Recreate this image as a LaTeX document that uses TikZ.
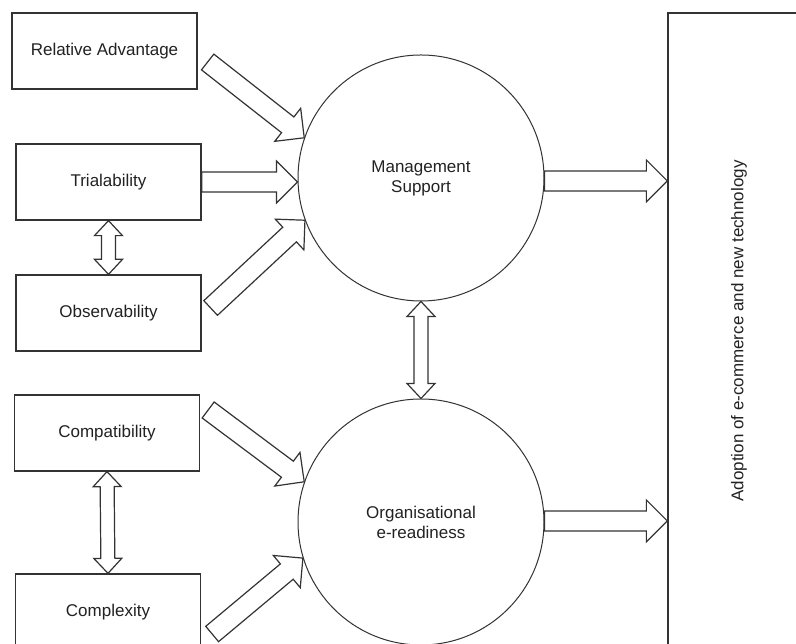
\documentclass[tikz,border=0pt]{standalone}
\usepackage{fontspec}
\usepackage{graphicx}
\setmainfont{Liberation Sans}
\usetikzlibrary{calc}
\definecolor{ln}{HTML}{333333}
\definecolor{tx}{HTML}{222222}
\tikzset{
  box/.style={draw=ln, line width=1.3pt, minimum width=185pt, minimum height=76pt, inner sep=0pt, text=tx, font=\fontsize{17}{20}\selectfont},
  circ/.style={draw=ln, line width=1pt, circle, minimum size=246pt, inner sep=0pt, text=tx, align=center, font=\fontsize{17}{20}\selectfont},
  arrowline/.style={draw=ln, line width=1.2pt, fill=white, line join=miter},
}
\newcommand\blockarrow[2]{%
  \coordinate (ba-c) at ($(#2)!21pt!(#1)$);
  \draw[arrowline] ($(#1)!10pt!90:(#2)$) -- ($(ba-c)!10pt!90:(#2)$) -- ($(ba-c)!21pt!90:(#2)$) -- (#2)
    -- ($(ba-c)!21pt!-90:(#2)$) -- ($(ba-c)!10pt!-90:(#2)$) -- ($(#1)!10pt!-90:(#2)$) -- cycle;
}
\newcommand\dblarrow[2]{%
  \coordinate (da-a) at ($(#1)!15pt!(#2)$);
  \coordinate (da-b) at ($(#2)!15pt!(#1)$);
  \draw[arrowline] (#1) -- ($(da-a)!14pt!90:(#2)$) -- ($(da-a)!7pt!90:(#2)$) -- ($(da-b)!7pt!90:(#2)$) -- ($(da-b)!14pt!90:(#2)$) -- (#2)
    -- ($(da-b)!14pt!-90:(#2)$) -- ($(da-b)!7pt!-90:(#2)$) -- ($(da-a)!7pt!-90:(#2)$) -- ($(da-a)!14pt!-90:(#2)$) -- cycle;
}
\begin{document}
\begin{tikzpicture}[x=1pt,y=1pt]
\useasboundingbox (0,0) rectangle (796,644);
\clip (0,0) rectangle (796,644);
\fill[white] (0,0) rectangle (796,644);
% boxes
\node[box] (ra) at (104.5,593) {Relative Advantage};
\node[box] (tr) at (108.5,462) {Trialability};
\node[box] (ob) at (108.5,331) {Observability};
\node[box] (co) at (107,211) {Compatibility};
\node[box] (cx) at (108,32) {Complexity};
% circles
\node[circ] (ms) at (421,466) {Management\\Support};
\node[circ] (os) at (421,122) {Organisational\\e-readiness};
% outcome
\node[box, minimum width=142pt, minimum height=636pt] (ad) at (739,313) {\rotatebox{90}{Adoption of e-commerce and new technology}};
% connector end points
\coordinate (ra-t) at ($(ra.east)+(10,-11)$);
\coordinate (tr-h) at (tr.east -| ms.west);
\coordinate (ob-t) at ($(ob.east)+(9,5)$);
\coordinate (co-t) at ($(co.east)+(8,23)$);
\coordinate (cx-t) at ($(cx.east)+(11,-22)$);
\coordinate (ms-e) at ($(ms.east)+(0,-3)$);
\coordinate (ms-h) at (ms-e -| ad.west);
\coordinate (os-e) at ($(os.east)+(0,1)$);
\coordinate (os-h) at (os-e -| ad.west);
% arrows
\blockarrow{ra-t}{ms.161}
\blockarrow{tr.east}{tr-h}
\blockarrow{ob-t}{ms.200}
\blockarrow{co-t}{os.161}
\blockarrow{cx-t}{os.197}
\blockarrow{ms-e}{ms-h}
\blockarrow{os-e}{os-h}
\dblarrow{tr.south}{ob.north}
\dblarrow{co.south}{cx.north}
\dblarrow{ms.south}{os.north}
\end{tikzpicture}
\end{document}
